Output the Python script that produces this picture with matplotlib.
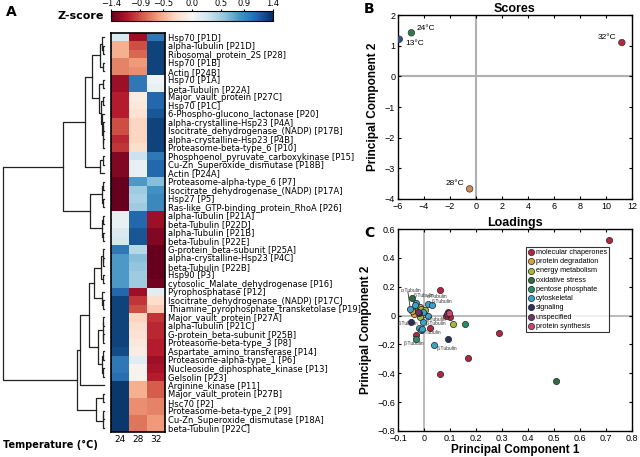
import numpy as np
import matplotlib.pyplot as plt

# ---- Panel A: heatmap data (row z-scores at 24, 28, 32 °C) ----
proteins = [
    'Hsp70 [P1D]', 'alpha-Tubulin [P21D]', 'Ribosomal_protein_2S [P28]', 'Hsp70 [P1B]',
    'Actin [P24B]', 'Hsp70 [P1A]', 'beta-Tubulin [P22A]', 'Major_vault_protein [P27C]',
    'Hsp70 [P1C]', '6-Phospho-glucono_lactonase [P20]', 'alpha-crystalline-Hsp23 [P4A]',
    'Isocitrate_dehydrogenase_(NADP) [P17B]', 'alpha-crystalline-Hsp23 [P4B]',
    'Proteasome-beta-type_6 [P10]', 'Phosphoenol_pyruvate_carboxykinase [P15]',
    'Cu-Zn_Superoxide_dismutase [P18B]', 'Actin [P24A]', 'Proteasome-alpha-type_6 [P7]',
    'Isocitrate_dehydrogenase_(NADP) [P17A]', 'Hsp27 [P5]',
    'Ras-like_GTP-binding_protein_RhoA [P26]', 'alpha-Tubulin [P21A]', 'beta-Tubulin [P22D]',
    'alpha-Tubulin [P21B]', 'beta-Tubulin [P22E]', 'G-protein_beta-subunit [P25A]',
    'alpha-crystalline-Hsp23 [P4C]', 'beta-Tubulin [P22B]', 'Hsp90 [P3]',
    'cytosolic_Malate_dehydrogenase [P16]', 'Pyrophosphatase [P12]',
    'Isocitrate_dehydrogenase_(NADP) [P17C]', 'Thiamine_pyrophosphate_transketolase [P19]',
    'Major_vault_protein [P27A]', 'alpha-Tubulin [P21C]', 'G-protein_beta-subunit [P25B]',
    'Proteasome-beta-type_3 [P8]', 'Aspartate_amino_transferase [P14]',
    'Proteasome-alpha-type_1 [P6]', 'Nucleoside_diphosphate_kinase [P13]', 'Gelsolin [P23]',
    'Arginine_kinase [P11]', 'Major_vault_protein [P27B]', 'Hsc70 [P2]',
    'Proteasome-beta-type_2 [P9]', 'Cu-Zn_Superoxide_dismutase [P18A]', 'beta-Tubulin [P22C]',
]
z24 = [0.2, -0.5, -0.5, -0.7, -0.7, -1.2, -1.2, -1.1, -1.1, -1.1, -0.9, -0.9, -1.05, -1.0,
       -1.3, -1.3, -1.3, -1.4, -1.4, -1.4, -1.4, 0.1, 0.1, 0.2, 0.25, 1.0, 0.8, 0.8, 0.8, 0.8,
       1.1, 1.3, 1.3, 1.3, 1.3, 1.3, 1.3, 1.25, 1.0, 1.0, 1.05, 1.35, 1.35, 1.35, 1.35, 1.35, 1.35]
z28 = [-1.2, -0.9, -0.8, -0.6, -0.65, 1.0, 1.0, -0.1, -0.15, -0.2, -0.3, -0.3, -0.3, -0.25,
       0.3, 0.1, 0.1, 0.8, 0.5, 0.45, 0.5, 1.1, 1.1, 1.2, 1.2, 0.4, 0.6, 0.55, 0.5, 0.5,
       -1.2, -1.0, -0.9, -0.3, -0.25, -0.2, -0.15, -0.1, 0.15, -0.05, -0.05,
       -0.5, -0.5, -0.65, -0.65, -0.75, -0.75]
z32 = [1.0, 1.3, 1.3, 1.3, 1.3, 0.05, 0.1, 1.1, 1.1, 1.2, 1.3, 1.3, 1.3, 1.3,
       1.0, 1.1, 1.1, 0.6, 0.85, 0.9, 0.9, -1.2, -1.2, -1.3, -1.3, -1.4, -1.4, -1.4, -1.4, -1.35,
       0.15, -0.25, -0.35, -1.0, -1.05, -1.05, -1.1, -1.1, -1.2, -1.15, -1.1,
       -0.85, -0.85, -0.7, -0.7, -0.6, -0.6]
temps = ['24', '28', '32']
cbar_ticks = [-1.4, -0.9, -0.5, 0.0, 0.5, 0.9, 1.4]

# dendrogram: (left, right, merge height); ints are row indices
clu_a = ((0, (1, 2, 1.0), 2.5), (3, 4, 1.5), 4.0)
clu_b = (5, 6, 1.2)
clu_c = ((7, 8, 1.0), (9, ((10, 11, 0.8), (12, 13, 1.0), 1.5), 2.0), 3.0)
clu_d = ((14, 15, 0.8), 16, 4.0)
clu_e = ((17, 18, 1.0), (19, 20, 1.0), 2.5)
clu_f = ((21, 22, 0.8), (23, 24, 0.8), 2.0)
clu_g = ((25, (26, 27, 0.8), 1.5), (28, 29, 1.0), 3.0)
clu_h = (30, (31, 32, 0.8), 2.5)
clu_i = (((33, 34, 0.8), (35, 36, 0.8), 1.5), ((37, 38, 1.0), (39, 40, 1.0), 2.0), 6.0)
clu_j = ((42, 43, 1.0), ((44, 45, 0.8), 46, 1.5), 8.0)
upper = (((clu_a, (clu_b, clu_c, 5.0), 12.0), clu_d, 19.0), (clu_e, clu_f, 14.0), 41.0)
lower = ((((clu_g, clu_h, 10.0), clu_i, 15.0), 41, 24.0), clu_j, 27.0)
tree = (upper, lower, 101.0)

# ---- Panel B: PCA scores ----
score_names = ['13°C', '24°C', '28°C', '32°C']
score_pc1 = [-5.9, -4.97, -0.49, 11.22]
score_pc2 = [1.21, 1.42, -3.67, 1.10]
score_colors = ['#2f4f86', '#2f7a4c', '#d08a52', '#b3283f']

# ---- Panel C: PCA loadings ----
categories = ['molecular chaperones', 'protein degradation', 'energy metabolism',
              'oxidative stress', 'pentose phosphate', 'cytoskeletal', 'signaling',
              'unspecified', 'protein synthesis']
cat_colors = ['#b3263e', '#d9a03c', '#a9b83c', '#2f6b47', '#2b8c6c', '#3aa3c8',
              '#27325f', '#6a3566', '#c8476d']
load_pc1 = {
    'molecular chaperones': [0.711, 0.289, 0.168, 0.063, 0.060, 0.093, 0.100, 0.022, -0.030, 0.086],
    'protein degradation': [-0.040, -0.030, -0.022, -0.045, -0.015],
    'energy metabolism': [0.113, -0.010, 0.000, -0.015, 0.005],
    'oxidative stress': [0.506, -0.046],
    'pentose phosphate': [0.158, -0.030],
    'cytoskeletal': [0.040, 0.015, 0.030, 0.015, -0.004, -0.021, -0.011, -0.030, -0.053,
                     -0.008, -0.005, -0.035],
    'signaling': [0.094, -0.049, -0.020],
    'unspecified': [0.088, -0.025],
    'protein synthesis': [0.095],
}
load_pc2 = {
    'molecular chaperones': [0.524, -0.123, -0.296, -0.407, 0.177, 0.028, -0.010, -0.088, -0.135, 0.000],
    'protein degradation': [0.009, 0.039, 0.055, 0.030, 0.060],
    'energy metabolism': [-0.058, 0.045, 0.010, -0.010, 0.040],
    'oxidative stress': [-0.453, 0.120],
    'pentose phosphate': [-0.056, -0.165],
    'cytoskeletal': [-0.204, 0.078, 0.073, 0.000, -0.042, -0.088, -0.098, 0.090, 0.043,
                     -0.095, 0.025, 0.070],
    'signaling': [-0.165, -0.042, 0.015],
    'unspecified': [0.010, 0.025],
    'protein synthesis': [0.020],
}
tub_labels = ['α-Tubulin', 'β-Tubulin', 'α-Tubulin', 'β-Tubulin', 'α-Tubulin', 'β-Tubulin',
              'β-Tubulin', 'α-Tubulin', 'β-Tubulin', 'β-Tubulin']
tub_x = [-0.088, -0.039, 0.012, 0.028, 0.008, 0.008, -0.100, -0.012, -0.077, 0.050]
tub_y = [0.177, 0.136, 0.130, 0.098, -0.030, -0.058, -0.058, -0.120, -0.197, -0.225]

W, H = 640, 457
fig = plt.figure(figsize=(6.4, 4.57), dpi=100)


def box(l, t, r, b):
    return [l / W, 1 - b / H, (r - l) / W, (b - t) / H]


# heatmap
data = np.array([z24, z28, z32]).T
ax_h = fig.add_axes(box(111, 33, 165, 432))
im = ax_h.imshow(data, cmap='RdBu', vmin=-1.4, vmax=1.4, aspect='auto', interpolation='nearest')
ax_h.yaxis.tick_right()
ax_h.set_yticks(range(len(proteins)))
ax_h.set_yticklabels(proteins, fontsize=6)
ax_h.set_xticks(range(3))
ax_h.set_xticklabels(temps, fontsize=6.5)
ax_h.tick_params(length=0, pad=2)
for s in ax_h.spines.values():
    s.set_linewidth(1.2)
fig.text(3 / W, 1 - 445 / H, 'Temperature (°C)', fontsize=7, weight='bold', va='center')

# dendrogram
ax_d = fig.add_axes(box(0, 33, 106, 432))


def draw(node):
    if isinstance(node, int):
        return node, 0.0
    a, b, h = node
    ya, ha = draw(a)
    yb, hb = draw(b)
    ax_d.plot([ha, h, h, hb], [ya, ya, yb, yb], color='#222222', lw=0.9)
    return (ya + yb) / 2, h


draw(tree)
ax_d.set_xlim(104, -2)
ax_d.set_ylim(len(proteins) - 0.5, -0.5)
ax_d.axis('off')

# colorbar
cax = fig.add_axes(box(111, 11, 273, 21))
cb = fig.colorbar(im, cax=cax, orientation='horizontal', ticks=cbar_ticks)
cax.xaxis.set_ticks_position('top')
cax.set_xticklabels(['−1.4', '−0.9', '−0.5', '0.0', '0.5', '0.9', '1.4'], fontsize=6)
cax.tick_params(length=1.5, pad=0.5)
fig.text(104 / W, 1 - 16 / H, 'Z-score', fontsize=8, weight='bold', ha='right', va='center')

sans = ['Liberation Sans', 'DejaVu Sans']

# scores
ax_s = fig.add_axes(box(398, 15, 632, 199))
ax_s.axhline(0, color='#b0b0b0', lw=1.5, zorder=0)
ax_s.axvline(0, color='#b0b0b0', lw=1.5, zorder=0)
ax_s.scatter(score_pc1, score_pc2, c=score_colors, s=22, edgecolors='#333333', linewidths=0.5, zorder=3)
offsets = [(4, -3, 'left'), (4, 3, 'left'), (-4, 4, 'right'), (-4, 4, 'right')]
for n, x, y, (dx, dy, ha) in zip(score_names, score_pc1, score_pc2, offsets):
    ax_s.annotate(n, (x, y), xytext=(dx, dy), textcoords='offset points', ha=ha, va='center',
                  fontsize=6, family=sans)
ax_s.set_xlim(-6, 12)
ax_s.set_ylim(-4, 2)
ax_s.set_xticks(range(-6, 13, 2))
ax_s.set_yticks(range(-4, 3))
ax_s.set_title('Scores', fontsize=9, weight='bold', family=sans, pad=2)
ax_s.set_ylabel('Principal Component 2', fontsize=8.5, weight='bold', family=sans)

# loadings
ax_l = fig.add_axes(box(398, 229, 632, 431))
ax_l.axhline(0, color='#b0b0b0', lw=1.2, zorder=0)
ax_l.axvline(0, color='#b0b0b0', lw=1.2, zorder=0)
for cat, col in zip(categories, cat_colors):
    ax_l.scatter(load_pc1[cat], load_pc2[cat], color=col, s=20, edgecolors='#222222',
                 linewidths=0.5, label=cat, zorder=3)
for t, x, y in zip(tub_labels, tub_x, tub_y):
    ax_l.text(x, y, t, fontsize=3.5, family=sans, color='#333333', va='center', zorder=4)
ax_l.plot([-0.062, -0.053], [0.165, 0.05], color='#333333', lw=0.6, zorder=2)
ax_l.set_xlim(-0.1, 0.8)
ax_l.set_ylim(-0.8, 0.6)
ax_l.set_xticks(np.arange(-0.1, 0.81, 0.1))
ax_l.set_xticklabels(['−0.1', '0', '0.1', '0.2', '0.3', '0.4', '0.5', '0.6', '0.7', '0.8'])
ax_l.set_yticks(np.arange(-0.8, 0.61, 0.2))
ax_l.set_yticklabels(['−0.8', '−0.6', '−0.4', '−0.2', '0', '0.2', '0.4', '0.6'])
ax_l.set_title('Loadings', fontsize=9, weight='bold', family=sans, pad=2)
ax_l.set_xlabel('Principal Component 1', fontsize=8.5, weight='bold', family=sans, labelpad=1)
ax_l.set_ylabel('Principal Component 2', fontsize=8.5, weight='bold', family=sans)
leg = ax_l.legend(loc='upper left', bbox_to_anchor=(0.545, 0.912), frameon=True,
                  fancybox=False, edgecolor='black', handletextpad=0.1, borderpad=0.3,
                  labelspacing=0.3, handlelength=1.0, borderaxespad=0,
                  prop={'family': sans, 'size': 5.2})
leg.get_frame().set_linewidth(0.8)

for ax in (ax_s, ax_l):
    ax.tick_params(direction='in', top=True, right=True, labelsize=6.5, length=2.5, pad=2)
    for lab in ax.get_xticklabels() + ax.get_yticklabels():
        lab.set_family(sans)
    for s in ax.spines.values():
        s.set_linewidth(1.0)

fig.text(6 / W, 1 - 12 / H, 'A', fontsize=10, weight='bold', va='center')
fig.text(364 / W, 1 - 9 / H, 'B', fontsize=10, weight='bold', va='center')
fig.text(364 / W, 1 - 233 / H, 'C', fontsize=10, weight='bold', va='center')

fig.savefig('out.png', dpi=100)
